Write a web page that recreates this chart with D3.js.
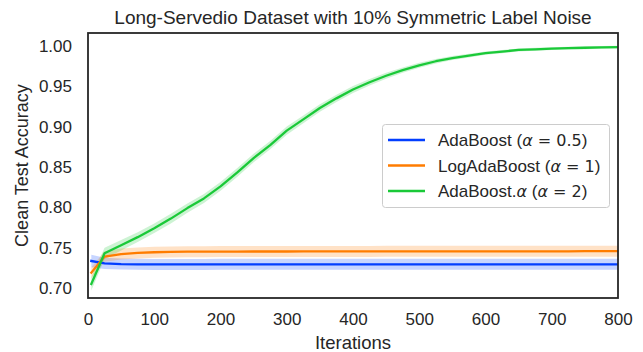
<!DOCTYPE html>
<html>
<head>
<meta charset="utf-8">
<script src="https://cdn.jsdelivr.net/npm/d3@7"></script>
<style>
  html, body { margin: 0; padding: 0; background: #ffffff; }
  svg text { font-family: "Liberation Sans", Arial, sans-serif; fill: #262626; }
</style>
</head>
<body>
<svg id="chart" width="643" height="352"></svg>
<script>
// Boosting iterations at which the test accuracy was recorded
const iterations = [5, 25, 50, 75, 100, 125, 150, 175, 200, 225, 250, 275, 300, 325, 350, 375, 400,
  425, 450, 475, 500, 525, 550, 575, 600, 625, 650, 675, 700, 725, 750, 775, 800];

// Mean clean test accuracy per method
const adaboostMean = [0.7335, 0.7305, 0.7296, 0.7293, 0.7292, 0.7292, 0.7292, 0.7292, 0.7293, 0.7293, 0.7293,
  0.7293, 0.7293, 0.7293, 0.7293, 0.7293, 0.7293, 0.7293, 0.7293, 0.7293, 0.7293, 0.7293, 0.7293, 0.7293,
  0.7293, 0.7293, 0.7293, 0.7293, 0.7293, 0.7293, 0.7293, 0.7293, 0.7293];
const logAdaboostMean = [0.719, 0.739, 0.742, 0.7435, 0.7443, 0.7447, 0.745, 0.745, 0.7451, 0.7451, 0.7452,
  0.7452, 0.7452, 0.7453, 0.7453, 0.7453, 0.7453, 0.7453, 0.7454, 0.7454, 0.7454, 0.7454, 0.7454, 0.7455,
  0.7455, 0.7455, 0.7455, 0.7455, 0.7455, 0.7455, 0.7456, 0.7456, 0.7456];
const adaboostAlphaMean = [0.705, 0.743, 0.753, 0.763, 0.774, 0.786, 0.799, 0.811, 0.826, 0.843, 0.861,
  0.877, 0.895, 0.909, 0.923, 0.935, 0.946, 0.955, 0.963, 0.970, 0.976, 0.981, 0.985, 0.988,
  0.991, 0.993, 0.995, 0.9958, 0.9966, 0.9972, 0.9977, 0.9982, 0.9986];

// Spread (half-width of the shaded band) per method
const adaboostSpread = [0.0078, 0.007, 0.0068, 0.0068, 0.0068, 0.0068, 0.0068, 0.0068, 0.0068, 0.0068, 0.0068,
  0.0068, 0.0068, 0.0068, 0.0068, 0.0068, 0.0068, 0.0068, 0.0068, 0.0068, 0.0068, 0.0068, 0.0068, 0.0068,
  0.0068, 0.0068, 0.0068, 0.0068, 0.0068, 0.0068, 0.0068, 0.0068, 0.0068];
const logAdaboostSpread = [0.0065, 0.0066, 0.0068, 0.0068, 0.0068, 0.0068, 0.0068, 0.0068, 0.0068, 0.0068, 0.0068,
  0.0068, 0.0068, 0.0068, 0.0068, 0.0068, 0.0068, 0.0068, 0.0068, 0.0068, 0.0068, 0.0068, 0.0068, 0.0068,
  0.0068, 0.0068, 0.0068, 0.0068, 0.0068, 0.0068, 0.0068, 0.0068, 0.0068];
const adaboostAlphaSpread = [0.008, 0.007, 0.0065, 0.006, 0.006, 0.006, 0.0058, 0.0056, 0.0055, 0.0054, 0.0053,
  0.0052, 0.005, 0.0048, 0.0046, 0.0044, 0.0042, 0.004, 0.0037, 0.0034, 0.0031, 0.0028, 0.0025, 0.0023,
  0.0021, 0.002, 0.0019, 0.0018, 0.0018, 0.0017, 0.0017, 0.0017, 0.0017];

const xTicks = [0, 100, 200, 300, 400, 500, 600, 700, 800];
const yTicks = [0.70, 0.75, 0.80, 0.85, 0.90, 0.95, 1.00];

const seriesNames = ["AdaBoost", "LogAdaBoost", "AdaBoost."];
const seriesAlpha = ["0.5", "1", "2"];
const seriesColors = ["#023eff", "#ff7c00", "#1ac938"];

const titleText = "Long-Servedio Dataset with 10% Symmetric Label Noise";
const xLabel = "Iterations";
const yLabel = "Clean Test Accuracy";

const series = [
  { mean: adaboostMean, spread: adaboostSpread },
  { mean: logAdaboostMean, spread: logAdaboostSpread },
  { mean: adaboostAlphaMean, spread: adaboostAlphaSpread }
];

const svg = d3.select("#chart");
const plot = { left: 88, right: 618, top: 33, bottom: 298 };

const x = d3.scaleLinear().domain([0, 800]).range([plot.left, plot.right]);
const y = d3.scaleLinear().domain([0.6876, 1.016]).range([plot.bottom, plot.top]);

svg.append("rect").attr("width", 643).attr("height", 352).attr("fill", "#ffffff");

svg.append("defs").append("clipPath").attr("id", "plotClip")
  .append("rect")
  .attr("x", plot.left).attr("y", plot.top)
  .attr("width", plot.right - plot.left).attr("height", plot.bottom - plot.top);

const g = svg.append("g").attr("clip-path", "url(#plotClip)");

const area = d3.area()
  .x((d, i) => x(iterations[i]))
  .y0(d => y(d[0] - d[1]))
  .y1(d => y(d[0] + d[1]));
const line = d3.line()
  .x((d, i) => x(iterations[i]))
  .y(d => y(d));

// Shaded spread bands first, then the mean lines on top
series.forEach((s, k) => {
  const pairs = s.mean.map((m, i) => [m, s.spread[i]]);
  g.append("path")
    .attr("d", area(pairs))
    .attr("fill", seriesColors[k])
    .attr("fill-opacity", 0.22)
    .attr("stroke", "none");
});
series.forEach((s, k) => {
  g.append("path")
    .attr("d", line(s.mean))
    .attr("fill", "none")
    .attr("stroke", seriesColors[k])
    .attr("stroke-width", 2.3)
    .attr("stroke-linejoin", "round")
    .attr("stroke-linecap", "square");
});

// Axes (tick marks hidden, labels only)
const xAxis = d3.axisBottom(x).tickValues(xTicks).tickSize(0).tickPadding(15).tickFormat(d3.format("d"));
const yAxis = d3.axisLeft(y).tickValues(yTicks).tickSize(0).tickPadding(16).tickFormat(d3.format(".2f"));

const gx = svg.append("g").attr("transform", `translate(0,${plot.bottom})`).call(xAxis);
const gy = svg.append("g").attr("transform", `translate(${plot.left},0)`).call(yAxis);
[gx, gy].forEach(a => {
  a.select(".domain").remove();
  a.selectAll("text")
    .attr("fill", "#262626")
    .style("font-family", "'Liberation Sans', Arial, sans-serif")
    .style("font-size", "17px");
});

// Frame
svg.append("rect")
  .attr("x", plot.left).attr("y", plot.top)
  .attr("width", plot.right - plot.left).attr("height", plot.bottom - plot.top)
  .attr("fill", "none").attr("stroke", "#262626").attr("stroke-width", 1.8);

// Title and axis labels
svg.append("text")
  .attr("x", (plot.left + plot.right) / 2).attr("y", 24)
  .attr("text-anchor", "middle").style("font-size", "19px")
  .text(titleText);
svg.append("text")
  .attr("x", (plot.left + plot.right) / 2).attr("y", 349)
  .attr("text-anchor", "middle").style("font-size", "18.5px")
  .text(xLabel);
svg.append("text")
  .attr("transform", `translate(28,${(plot.top + plot.bottom) / 2}) rotate(-90)`)
  .attr("text-anchor", "middle").style("font-size", "18px")
  .text(yLabel);

// Legend
const legend = svg.append("g");
legend.append("rect")
  .attr("x", 382.5).attr("y", 124.5).attr("width", 227).attr("height", 83)
  .attr("rx", 3).attr("ry", 3)
  .attr("fill", "#ffffff").attr("fill-opacity", 0.8)
  .attr("stroke", "#cccccc").attr("stroke-width", 1);

seriesNames.forEach((name, k) => {
  const cy = 140 + k * 25.5;
  legend.append("line")
    .attr("x1", 388).attr("x2", 425).attr("y1", cy).attr("y2", cy)
    .attr("stroke", seriesColors[k]).attr("stroke-width", 2.3);
  const t = legend.append("text")
    .attr("x", 438).attr("y", cy + 6)
    .style("font-size", "17px");
  t.append("tspan").text(name);
  if (k === 2) {
    t.append("tspan").style("font-family", "'DejaVu Sans'").style("font-style", "italic").style("font-size", "16px").text("α");
  }
  t.append("tspan").text(" (");
  t.append("tspan").style("font-family", "'DejaVu Sans'").style("font-style", "italic").style("font-size", "16px").text("α");
  t.append("tspan").style("font-family", "'DejaVu Sans'").style("font-size", "16px").text(" = " + seriesAlpha[k]);
  t.append("tspan").text(")");
});
</script>
</body>
</html>
